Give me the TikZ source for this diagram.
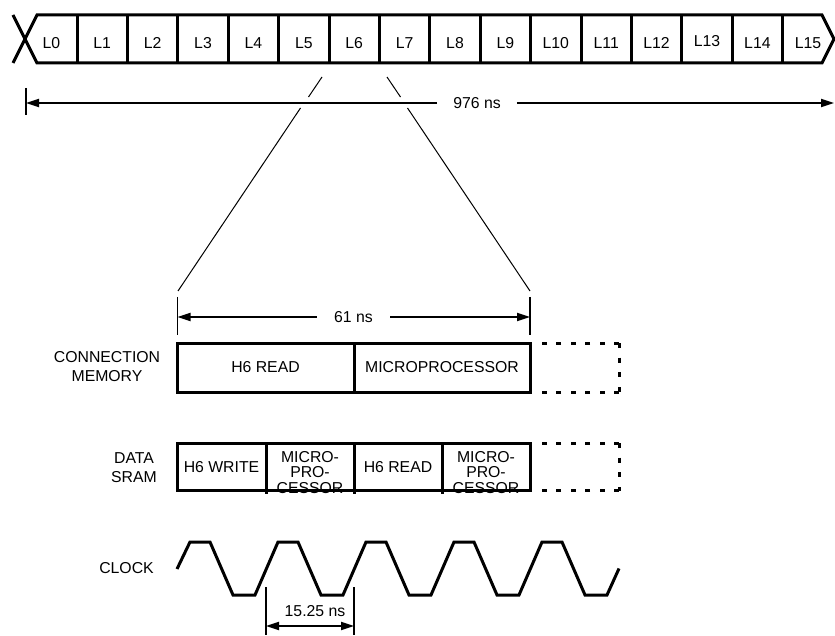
\documentclass[tikz,border=0pt]{standalone}
\usepackage{fontspec}
\setmainfont{Liberation Sans}
\usetikzlibrary{arrows.meta}
\begin{document}
\begin{tikzpicture}[x=1pt,y=-1pt,
  font=\fontsize{15.8}{19}\selectfont,
  barline/.style={line width=3pt},
  thinline/.style={line width=1pt},
  tickline/.style={line width=1.8pt},
  dimline/.style={line width=1.8pt},
  tip/.tip={Triangle[length=13pt,width=8pt]},
  dimlabel/.style={inner ysep=2pt,inner xsep=17pt},
  cellbox/.style={draw,line width=3pt,inner sep=0pt,minimum height=49pt},
  multi/.style={align=center,inner sep=0pt,font=\fontsize{15.8}{15.2}\selectfont},
  sidelabel/.style={align=center,inner sep=0pt},
  dotline/.style={line width=3pt,dash pattern=on 5pt off 9.5pt},
  dotvert/.style={line width=3pt,dash pattern=on 5pt off 9.67pt}]
\useasboundingbox (0,0) rectangle (835,636);

% ---------- top bar of 16 time slots ----------
\draw[barline] (13,15) -- (37,63) -- (822,63) -- (834,39) -- (822,15) -- (37,15) -- (13,63);
\foreach \k in {0,...,14}{
  \draw[barline] ({77+50.4*\k},15) -- ({77+50.4*\k},63);
}
\node (l0) at (51.5,43) {L0};
\foreach \k in {1,...,12,14}{
  \node (l\k) at ({77+50.4*(\k-0.5)},43) {L\k};
}
\node (l13) at ({77+50.4*12.5},41) {L13};
\node (l15) at (808,43) {L15};

% ---------- 976 ns dimension ----------
\coordinate (t976top) at (26,88);
\coordinate (t976bot) at (26,115);
\coordinate (t976L) at (26,103);
\coordinate (t976R) at (834,103);
\draw[tickline] (t976top) -- (t976bot);
\node[dimlabel,inner xsep=16pt] (n976) at (477,103) {976 ns};
\draw[dimline,-tip] (n976.west) -- (t976L);
\draw[dimline,-tip] (n976.east) -- (t976R);

% ---------- zoom lines ----------
\coordinate (a1) at (322,77);
\coordinate (a2) at (308.5,97);
\coordinate (a3) at (300.5,108);
\coordinate (a4) at (178,291);
\coordinate (b1) at (387,77);
\coordinate (b2) at (400.5,97);
\coordinate (b3) at (407.5,108);
\coordinate (b4) at (530,291);
\draw[thinline] (a1) -- (a2) (a3) -- (a4);
\draw[thinline] (b1) -- (b2) (b3) -- (b4);

% ---------- 61 ns dimension ----------
\coordinate (t61Ltop) at (177.5,297);
\coordinate (t61Lbot) at (177.5,335);
\coordinate (t61Rtop) at (530,297);
\coordinate (t61Rbot) at (530,335);
\coordinate (t61L) at (177.5,317);
\coordinate (t61R) at (530,317);
\draw[tickline] (t61Ltop) -- (t61Lbot);
\draw[tickline] (t61Rtop) -- (t61Rbot);
\node[dimlabel] (n61) at (353.5,317) {61 ns};
\draw[dimline,-tip] (n61.west) -- (t61L);
\draw[dimline,-tip] (n61.east) -- (t61R);

% ---------- connection memory ----------
\node[sidelabel] (cmlab) at (107,366.5) {CONNECTION\\MEMORY};
\node[cellbox,minimum width=177pt] (cmA) at (265.5,367.5) {H6 READ};
\node[cellbox,minimum width=176pt] (cmB) at (442,367.5) {MICROPROCESSOR};
\draw[dotline] (619,343) -- (540,343);
\draw[dotvert] (619,343) -- (619,392);
\draw[dotline] (619,392) -- (540,392);

% ---------- data SRAM ----------
\node[sidelabel] (dslab) at (134,467.5) {DATA\\SRAM};
\node (sA) at (221.5,467.5) {H6 WRITE};
\node[multi] (sB) at (310,472.5) {MICRO-\\PRO-\\CESSOR};
\node (sC) at (398,467.5) {H6 READ};
\node[multi] (sD) at (486,472.5) {MICRO-\\PRO-\\CESSOR};
\draw[barline] (177,443) rectangle (530,490);
\draw[barline] (266,443) -- (266,494);
\draw[barline] (354,443) -- (354,494);
\draw[barline] (442,443) -- (442,494);
\draw[dotline] (619,443) -- (540,443);
\draw[dotvert] (619,443) -- (619,491);
\draw[dotline] (619,490) -- (540,490);

% ---------- clock ----------
\node (clklab) at (126.5,568) {CLOCK};
\draw[barline] (177,569) -- (190,542) -- (210,542) -- (233,595) -- (255,595)
  -- (278,542) -- (298,542) -- (321,595) -- (343,595)
  -- (366,542) -- (386,542) -- (409,595) -- (431,595)
  -- (454,542) -- (474,542) -- (497,595) -- (519,595)
  -- (542,542) -- (562,542) -- (585,595) -- (607,595) -- (619,568.5);

% ---------- 15.25 ns dimension ----------
\coordinate (tcLtop) at (266,587);
\coordinate (tcLbot) at (266,635);
\coordinate (tcRtop) at (354,587);
\coordinate (tcRbot) at (354,635);
\coordinate (tcL) at (266,626);
\coordinate (tcR) at (354,626);
\draw[tickline] (tcLtop) -- (tcLbot);
\draw[tickline] (tcRtop) -- (tcRbot);
\draw[dimline,tip-tip] (tcL) -- (tcR);
\node (n1525) at (315,611.5) {15.25 ns};
\end{tikzpicture}
\end{document}
